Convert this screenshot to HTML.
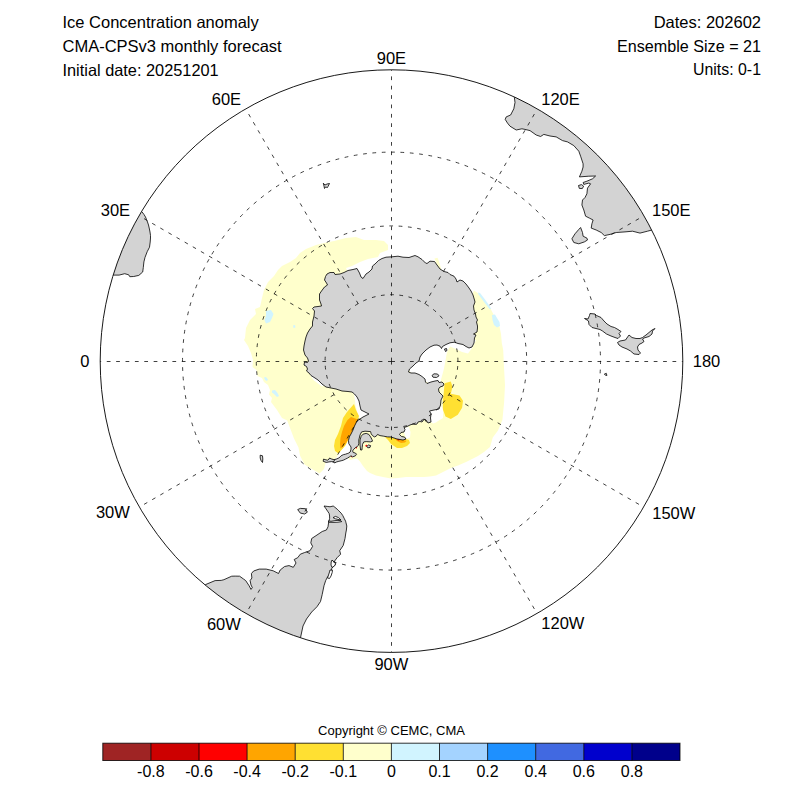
<!DOCTYPE html>
<html><head><meta charset="utf-8"><style>
html,body{margin:0;padding:0;background:#fff;width:800px;height:800px;overflow:hidden}
svg{display:block}
text{font-family:"Liberation Sans",Arial,Helvetica,sans-serif;fill:#000}
.t{font-size:16.5px}
.lb{font-size:16.5px;text-anchor:middle}
.cl{font-size:16px;text-anchor:middle}
.g{fill:none;stroke:#000;stroke-opacity:0.75;stroke-width:1;stroke-dasharray:3.75 5.625}
.gl{stroke-dashoffset:2.8}
.land path{fill:#d3d3d3;stroke:#000;stroke-width:0.8;stroke-linejoin:round}
</style></head><body>
<svg width="800" height="800" viewBox="0 0 800 800">
<text x="62.5" y="28.2" class="t">Ice Concentration anomaly</text>
<text x="62.5" y="52.2" class="t">CMA-CPSv3 monthly forecast</text>
<text x="62.5" y="75.7" class="t" textLength="156.2" lengthAdjust="spacingAndGlyphs">Initial date: 20251201</text>
<text x="761" y="28" class="t" text-anchor="end">Dates: 202602</text>
<text x="761" y="52" class="t" text-anchor="end" textLength="144" lengthAdjust="spacingAndGlyphs">Ensemble Size = 21</text>
<text x="761" y="75.3" class="t" text-anchor="end" textLength="68" lengthAdjust="spacingAndGlyphs">Units: 0-1</text>
<defs><clipPath id="cc"><circle cx="391.5" cy="361.1" r="291.3"/></clipPath></defs>
<g clip-path="url(#cc)">
<path d="M300.0,253.0 L306.0,249.0 L316.0,245.0 L324.0,243.0 L334.0,241.0 L346.0,238.0 L356.0,237.0 L364.0,240.0 L376.0,240.0 L384.0,241.0 L388.0,245.0 L388.0,250.0 L380.0,253.0 L378.0,257.0 L368.0,259.0 L360.0,262.0 L352.0,266.0 L346.0,268.0 L360.0,300.0 L470.0,300.0 L474.0,290.5 L478.5,293.5 L484.5,301.0 L490.5,308.5 L493.5,314.5 L498.0,320.5 L499.5,326.5 L501.0,334.0 L501.8,343.0 L503.2,350.0 L504.0,367.5 L505.0,385.0 L504.1,402.5 L502.4,420.0 L498.0,430.5 L492.8,437.5 L490.0,447.0 L484.0,452.0 L478.0,456.0 L472.0,459.0 L466.0,462.0 L458.0,465.5 L451.0,468.0 L443.0,472.0 L436.0,475.5 L430.0,476.5 L424.0,477.0 L415.0,477.0 L406.0,477.0 L398.0,478.0 L391.0,478.5 L383.0,477.0 L376.0,475.5 L370.0,473.0 L367.0,471.0 L363.0,466.0 L360.0,461.5 L357.0,458.5 L349.5,460.0 L347.0,456.0 L344.0,452.0 L341.0,452.5 L338.5,455.0 L336.0,458.0 L332.0,460.5 L326.0,461.5 L324.0,469.0 L319.5,473.5 L312.0,469.0 L304.5,464.5 L300.0,455.5 L298.5,447.5 L294.0,438.5 L290.6,429.5 L287.2,420.5 L282.0,418.0 L277.0,410.0 L274.0,406.0 L271.0,402.0 L272.0,398.0 L269.0,394.5 L270.0,390.0 L268.0,385.0 L264.0,382.0 L262.0,378.0 L257.5,376.0 L256.5,370.0 L252.5,367.0 L253.0,360.0 L251.0,353.0 L248.0,346.0 L244.0,340.0 L245.0,338.0 L246.0,328.0 L250.0,320.0 L256.0,314.0 L255.0,309.0 L260.0,307.0 L262.0,298.0 L264.0,290.0 L268.0,282.0 L274.0,276.0 L278.0,270.0 L282.0,266.0 L290.0,262.0 L296.0,258.0Z" fill="#ffffcc"/>
<path d="M434.5,258.5 L437.5,257.8 L439.0,261.5 L440.2,265.5 L441.5,270.0 L438.5,269.0 L436.5,264.0Z" fill="#ffffcc"/>
<path d="M472.5,347.5 L468.0,353.5 L462.0,352.0 L456.0,349.0 L450.0,346.5 L447.0,352.0 L445.5,360.5 L443.8,369.2 L441.0,379.8 L440.5,384.0 L430.0,384.0 L410.0,372.0 L405.0,360.0 L440.0,335.0 L476.0,340.0Z" fill="#fff"/>
<path d="M440.0,405.0 L443.0,409.0 L443.0,418.0 L438.0,421.0 L436.0,422.5 L433.0,423.5 L431.0,422.0 L429.0,411.0 L432.0,405.0Z" fill="#fff"/>
<path d="M404.0,427.5 L409.0,427.0 L410.5,432.0 L410.0,437.5 L406.0,439.0 L404.0,432.0Z" fill="#fff"/>
<path d="M352.0,392.0 L354.0,394.0 L355.5,405.0 L358.0,415.0 L359.0,418.0 L370.0,418.0 L370.0,390.0Z" fill="#fff"/>
<path d="M310.0,375.0 L314.0,380.5 L318.0,383.5 L322.0,386.5 L324.0,386.0 L318.0,379.0 L312.0,374.0Z" fill="#fff"/>
<path d="M444.6,383.2 L450.8,381.5 L452.5,386.8 L450.8,393.8 L459.5,395.5 L463.0,400.8 L462.1,407.8 L457.8,414.8 L450.8,419.1 L445.5,416.5 L442.9,409.5 L442.9,400.8 L443.8,392.0Z" fill="#ffe032"/>
<path d="M354.0,404.0 L356.0,410.0 L359.0,416.0 L357.0,422.0 L352.0,430.0 L349.0,438.0 L346.0,445.0 L342.0,450.0 L338.5,453.5 L335.0,451.0 L334.0,446.0 L335.0,440.0 L338.0,434.0 L341.0,426.0 L343.0,418.0 L347.0,412.0Z" fill="#ffe032"/>
<path d="M385.0,437.0 L388.0,440.0 L391.0,444.0 L397.0,448.0 L402.0,448.0 L407.0,446.0 L410.0,443.0 L409.0,440.0 L406.0,439.0 L403.0,440.0 L400.0,439.5 L397.0,439.0 L394.0,438.0 L390.0,437.0Z" fill="#ffe032"/>
<path d="M351.0,417.0 L358.0,419.5 L356.0,424.0 L352.0,432.0 L349.0,438.0 L346.0,443.0 L343.0,447.0 L340.5,448.5 L340.0,444.0 L340.5,438.0 L342.0,432.0 L344.0,426.0 L347.5,420.0Z" fill="#ffa500"/>
<path d="M395.0,439.0 L397.0,441.0 L401.0,443.0 L405.0,442.5 L406.5,441.0 L404.0,440.0 L400.0,439.5Z" fill="#ffa500"/>
<path d="M349.3,437.0 L348.0,441.0 L345.5,445.5 L342.5,449.0 L339.5,452.5 L337.5,455.5 L338.9,458.0 L345.0,455.0 L350.0,452.0 L351.0,447.0 L348.5,440.4Z" fill="#fff"/>
<path d="M266.0,311.0 L271.0,310.0 L273.5,314.0 L272.0,318.0 L270.0,322.0 L266.0,323.5 L264.5,320.0 L266.0,316.0Z" fill="#d1f4ff"/>
<path d="M293.0,325.5 L295.0,325.0 L295.5,327.5 L293.5,328.0Z" fill="#d1f4ff"/>
<path d="M264.0,377.5 L266.0,377.0 L268.0,379.5 L267.0,381.0 L265.0,380.0Z" fill="#d1f4ff"/>
<path d="M272.0,390.5 L275.0,390.0 L277.5,393.0 L279.0,396.0 L277.0,397.0 L274.0,394.0 L272.0,392.5Z" fill="#d1f4ff"/>
<path d="M492.0,315.0 L495.0,314.5 L497.0,318.0 L499.5,322.0 L500.0,326.0 L497.0,327.5 L494.0,325.0 L492.5,320.0Z" fill="#d1f4ff"/>
<path d="M478.0,292.5 L480.0,293.0 L485.0,299.5 L490.0,306.5 L491.0,309.0 L489.5,309.0 L484.0,302.0 L478.5,294.5Z" fill="#d1f4ff"/>
<circle cx="398.5" cy="439.5" r="1.1" fill="#ff0000"/>
<circle cx="356.25" cy="447.6" r="0.9" fill="#ff0000"/>
<circle cx="366.4" cy="445.7" r="1.0" fill="#ff0000"/>
<circle cx="351.75" cy="456.4" r="0.8" fill="#ff0000"/>
<g class="land"><path d="M141.8,211.6 L144.0,214.5 L145.5,217.0 L146.5,219.5 L147.5,222.0 L148.5,225.0 L149.2,228.0 L150.0,232.0 L150.5,235.5 L150.5,238.0 L150.2,242.0 L149.5,247.2 L147.2,251.7 L145.0,257.4 L143.9,261.9 L143.3,267.5 L142.7,272.0 L138.8,275.4 L133.7,276.5 L129.8,276.7 L128.7,274.8 L124.7,273.7 L119.1,275.1 L113.5,275.1 L75.0,263.2 L75.0,263.2 L77.0,256.9 L79.2,250.6 L81.4,244.4 L83.8,238.3 L86.3,232.1 L89.0,226.1 L91.7,220.1 L94.6,214.1 L97.6,208.2 L100.7,202.4 L103.9,196.6 L107.3,190.9 L107.3,190.9Z"/>
<path d="M514.4,97.5 L515.0,102.5 L513.8,108.8 L510.6,115.0 L506.2,116.9 L505.2,119.4 L507.5,123.1 L510.0,126.2 L516.2,130.0 L521.9,128.8 L525.0,129.4 L530.0,130.6 L536.2,135.0 L540.6,136.5 L543.8,134.4 L550.0,136.0 L556.2,136.9 L562.5,140.6 L567.5,141.9 L573.8,145.6 L578.8,151.2 L580.6,156.2 L583.1,163.8 L583.1,167.0 L581.9,171.2 L579.4,176.9 L588.8,176.2 L595.6,176.0 L592.5,178.8 L586.9,181.2 L583.1,182.5 L583.8,184.4 L588.8,183.1 L590.6,183.8 L587.5,188.1 L586.9,193.8 L585.0,197.5 L582.5,200.0 L581.9,205.0 L583.8,210.0 L585.6,216.2 L589.4,218.1 L593.1,220.0 L591.9,223.8 L591.2,228.1 L596.2,230.0 L601.2,232.5 L604.4,235.6 L610.0,234.4 L616.2,232.5 L625.0,231.9 L632.5,231.2 L640.0,233.1 L647.5,231.2 L651.9,230.0 L687.4,212.1 L687.4,212.1 L678.7,195.9 L669.0,180.2 L658.5,165.0 L647.2,150.4 L635.1,136.5 L622.2,123.3 L608.6,110.9 L594.4,99.2 L579.5,88.3 L564.0,78.2 L548.0,69.1 L531.5,60.8 L531.5,60.8Z"/>
<path d="M205.5,584.6 L215.1,580.6 L221.2,580.4 L223.9,579.7 L231.7,576.2 L235.2,576.1 L239.6,576.2 L243.5,579.0 L245.7,580.6 L249.2,585.9 L251.0,589.4 L252.3,587.6 L251.0,585.0 L250.1,580.6 L251.9,578.0 L251.4,573.6 L253.6,571.0 L259.2,569.1 L266.2,569.1 L273.2,570.8 L278.5,573.5 L280.2,570.0 L284.6,566.5 L289.0,565.6 L293.3,567.3 L296.0,563.0 L294.2,559.5 L297.7,557.7 L300.3,554.2 L304.7,552.5 L310.0,550.7 L312.6,546.4 L310.8,542.9 L311.7,538.5 L317.0,535.0 L322.2,531.5 L326.4,530.0 L328.0,526.8 L328.4,524.0 L328.8,521.2 L329.6,518.8 L329.6,516.0 L329.2,513.6 L327.6,511.2 L326.0,508.8 L324.0,506.0 L327.2,506.4 L330.0,506.8 L333.2,506.0 L334.8,507.2 L337.2,509.2 L338.8,510.8 L341.2,513.2 L342.8,515.6 L344.4,518.8 L345.6,521.2 L346.0,522.8 L346.8,526.0 L346.4,530.0 L345.8,533.0 L345.0,538.5 L343.2,545.5 L339.7,550.7 L340.6,554.2 L337.1,557.7 L334.5,561.2 L335.3,564.7 L331.8,568.2 L331.0,573.5 L327.5,577.0 L325.7,580.5 L324.0,585.7 L322.2,594.5 L320.5,601.5 L317.0,606.7 L311.7,612.0 L306.5,619.0 L303.0,626.0 L300.5,637.7 L288.0,675.8 L288.0,675.8 L278.1,672.4 L268.4,668.7 L258.9,664.7 L249.4,660.4 L240.1,655.8 L230.9,650.9 L221.9,645.7 L213.1,640.3 L204.4,634.5 L195.9,628.5 L187.7,622.3 L179.6,615.8 L179.6,615.8Z"/>
<path d="M578.5,185.5 L581.5,184.6 L583.6,186.2 L582.3,188.6 L579.3,188.4Z"/>
<path d="M580.6,227.5 L582.5,232.5 L583.1,236.2 L586.9,238.1 L587.5,240.0 L584.4,241.9 L578.8,243.8 L573.8,242.5 L571.9,238.8 L575.0,233.8 L578.8,229.4Z"/>
<path d="M590.0,313.5 L595.0,314.0 L596.5,315.5 L601.0,317.5 L604.0,321.0 L607.0,324.0 L611.0,326.5 L614.5,327.5 L618.0,329.5 L621.0,331.5 L619.0,333.5 L620.5,336.0 L618.0,338.5 L615.0,337.5 L611.0,336.0 L606.5,334.0 L602.5,331.0 L600.0,329.5 L596.0,328.5 L592.0,327.5 L589.0,324.5 L588.5,321.0 L587.0,320.0 L584.5,318.5 L588.0,319.0 L589.5,315.5Z"/>
<path d="M617.5,342.5 L620.0,341.0 L625.5,340.0 L629.0,335.0 L632.0,337.5 L636.0,338.5 L640.0,338.5 L642.5,337.5 L646.0,335.0 L652.0,330.0 L655.0,328.5 L652.5,331.0 L652.0,334.0 L649.0,336.5 L644.0,338.0 L642.5,339.0 L644.0,341.5 L642.0,343.0 L639.0,344.5 L637.5,347.0 L638.0,350.0 L640.5,353.0 L639.0,354.5 L634.0,354.0 L630.5,351.0 L627.0,349.0 L622.0,347.0 L619.0,345.0Z"/>
<path d="M297.7,509.6 L300.3,508.4 L305.6,508.7 L307.3,512.2 L304.7,514.0 L300.3,513.1Z"/>
<path d="M323.3,183.2 L325.0,185.0 L327.0,184.0 L329.5,183.5 L328.0,186.5 L327.5,187.5 L325.5,187.0 L324.5,188.5 L324.0,186.0Z"/>
<path d="M260.2,455.2 L262.5,455.8 L262.8,459.0 L262.5,462.5 L261.0,460.5 L260.2,458.0Z"/>
<path d="M313.0,320.0 L314.0,316.0 L314.5,311.0 L312.5,308.5 L314.0,307.0 L318.0,306.5 L321.5,306.0 L321.0,304.0 L319.5,300.0 L319.5,294.0 L321.5,291.0 L324.5,287.0 L327.5,285.0 L326.5,283.0 L324.5,280.0 L325.5,276.5 L327.0,274.0 L330.0,272.5 L334.0,272.5 L335.0,274.5 L340.0,274.0 L344.0,272.5 L348.0,270.5 L353.0,269.5 L357.0,268.5 L359.5,273.0 L361.0,277.0 L363.0,278.5 L366.0,274.0 L369.0,272.0 L372.0,269.0 L372.5,266.0 L375.0,264.0 L378.5,260.5 L382.0,258.5 L386.0,257.2 L392.0,256.8 L398.0,256.2 L403.0,257.2 L409.0,257.5 L412.0,256.5 L415.0,255.5 L418.0,256.8 L422.0,259.5 L425.5,263.0 L427.0,263.5 L430.0,261.2 L434.5,261.5 L437.0,265.0 L440.0,269.0 L444.0,271.5 L448.0,272.5 L450.0,274.5 L454.0,276.2 L456.0,279.0 L457.0,282.0 L460.0,280.0 L463.0,281.0 L466.0,284.0 L469.0,288.0 L471.0,291.0 L473.0,295.0 L474.5,300.0 L475.0,302.0 L473.5,306.0 L474.0,310.0 L475.5,314.0 L476.0,317.0 L477.5,320.0 L476.5,322.0 L477.5,326.0 L477.5,328.0 L477.0,332.0 L473.5,334.0 L476.0,335.0 L474.5,338.0 L474.0,343.0 L472.0,347.0 L469.0,348.0 L466.0,346.5 L463.0,344.5 L458.0,343.5 L454.5,342.2 L450.0,342.8 L446.0,344.5 L442.5,346.5 L441.5,348.5 L440.0,346.2 L437.0,345.0 L434.0,345.2 L430.0,347.0 L426.0,350.0 L422.0,354.0 L420.0,357.0 L419.0,361.0 L416.0,363.0 L413.0,366.0 L409.5,369.0 L408.5,372.0 L411.0,373.0 L415.0,373.0 L419.0,374.5 L422.0,376.5 L425.0,379.0 L425.5,382.0 L427.0,383.5 L431.0,382.0 L435.0,381.0 L438.0,380.5 L439.0,382.5 L442.0,382.0 L444.0,384.0 L443.0,386.0 L440.0,387.0 L438.5,389.0 L439.0,392.0 L441.0,394.0 L443.0,396.0 L441.0,400.0 L440.5,405.0 L439.0,409.0 L434.0,410.0 L429.5,411.0 L431.0,414.0 L430.5,418.0 L431.0,422.0 L428.0,423.0 L426.0,420.0 L424.0,419.5 L422.0,422.0 L420.0,421.5 L418.0,422.0 L417.0,424.0 L415.5,424.5 L413.0,424.0 L410.0,425.0 L407.0,426.5 L404.0,427.5 L405.0,429.5 L404.0,432.0 L401.0,432.5 L399.5,434.5 L401.5,436.5 L404.5,437.0 L406.0,439.0 L403.0,440.0 L400.0,439.5 L397.0,439.0 L394.0,438.0 L391.0,437.0 L387.5,436.9 L383.8,436.2 L380.0,435.6 L377.5,434.4 L376.2,436.2 L374.4,436.9 L372.5,435.6 L371.2,433.8 L370.6,431.6 L365.0,431.2 L361.6,431.9 L360.0,435.0 L358.8,440.0 L358.8,443.8 L358.1,445.6 L356.9,446.9 L355.4,447.6 L353.8,449.2 L352.6,450.9 L353.2,452.5 L355.4,453.0 L356.5,454.2 L355.4,455.8 L352.6,456.9 L351.0,455.8 L349.4,456.9 L347.7,458.0 L345.5,459.1 L343.3,460.2 L341.1,460.8 L338.9,461.3 L336.7,461.9 L334.5,463.0 L334.0,461.9 L331.8,461.6 L329.0,461.9 L326.2,462.4 L323.2,461.3 L323.5,459.1 L325.1,459.6 L327.4,460.2 L329.0,459.1 L329.6,458.0 L331.8,459.1 L334.0,459.7 L336.2,459.1 L338.9,458.0 L341.1,455.8 L343.3,454.7 L345.5,454.2 L347.2,453.6 L348.8,453.0 L350.2,452.0 L351.0,449.2 L351.0,447.0 L348.8,443.7 L348.5,440.4 L349.3,437.0 L351.0,434.0 L353.0,430.0 L354.5,426.0 L357.0,421.0 L360.0,419.0 L363.0,417.0 L366.0,415.5 L369.0,414.0 L365.0,412.0 L361.0,410.0 L360.0,406.0 L359.0,401.0 L357.0,397.0 L354.5,394.0 L352.0,392.0 L348.0,391.5 L342.0,391.0 L336.0,389.0 L331.0,388.0 L326.0,387.0 L322.0,384.0 L318.0,380.0 L315.0,378.0 L311.0,375.5 L309.0,373.0 L306.5,371.0 L307.5,369.0 L306.5,366.5 L304.0,365.0 L304.5,362.0 L307.5,362.5 L308.5,361.0 L307.5,358.0 L305.0,355.0 L303.5,350.0 L304.0,346.0 L305.0,341.0 L306.0,337.0 L307.5,333.0 L310.0,329.0 L312.5,326.0 L312.5,322.0Z"/>
<path d="M360.6,450.0 L360.0,445.0 L360.0,440.0 L361.2,436.2 L363.1,434.1 L366.2,433.4 L368.8,434.4 L370.6,436.9 L371.9,439.4 L372.5,441.2 L370.6,441.9 L366.2,441.6 L363.8,441.9 L362.5,444.4 L362.2,447.5 L361.9,450.0Z"/>
<path d="M432.0,375.5 L434.0,373.8 L437.5,374.0 L439.0,375.8 L436.5,377.5 L433.0,377.2Z"/>
<path d="M366.8,446.5 L368.5,445.0 L370.6,445.6 L370.0,447.5 L367.8,447.8Z"/>
<path d="M444.5,349.0 L446.5,348.5 L447.0,350.5 L445.5,351.5Z"/>
<path d="M604.3,374.2 L606.3,373.3 L606.9,375.5 L605.5,375.2Z"/>
<path d="M330.0,570.0 L332.5,570.2 L332.2,572.5 L331.0,576.0 L329.5,578.5 L327.5,578.0 L328.5,575.0 L329.5,572.0Z" style="fill:#fff"/>
<path d="M332.0,560.0 L333.0,561.0 L335.0,562.5 L335.5,564.0 L334.5,566.0 L332.0,567.5 L331.0,565.0 L331.2,562.0Z" style="fill:#fff"/>
<path d="M328.5,520.9 L331.0,521.3 L334.0,520.8 L337.0,520.4 L340.5,520.6 L341.8,521.6 L338.0,522.2 L334.0,522.4 L331.0,522.3 L328.6,522.3Z" style="fill:#fff"/>
<path d="M333.0,517.6 L335.5,516.4 L338.5,517.6 L341.0,520.0 L338.0,519.4 L335.5,518.8Z" style="fill:#fff"/></g>
</g>
<circle cx="391.5" cy="361.1" r="66.42" class="g" style="stroke-dasharray:3.7099 5.5648;stroke-dashoffset:4.2"/>
<circle cx="391.5" cy="361.1" r="135.19" class="g" style="stroke-dasharray:3.7338 5.6007;stroke-dashoffset:0.1"/>
<circle cx="391.5" cy="361.1" r="208.99" class="g" style="stroke-dasharray:3.7518 5.6277;stroke-dashoffset:0.8"/>
<line x1="100.20" y1="361.50" x2="391.50" y2="361.50" class="g gl"/>
<line x1="139.23" y1="215.85" x2="333.97" y2="328.29" class="g gl" style="stroke-dashoffset:3.8"/>
<line x1="245.85" y1="109.23" x2="358.29" y2="303.97" class="g gl" style="stroke-dashoffset:3.8"/>
<line x1="391.50" y1="69.80" x2="391.50" y2="361.10" class="g gl"/>
<line x1="537.15" y1="109.23" x2="424.71" y2="303.97" class="g gl" style="stroke-dashoffset:3.8"/>
<line x1="643.77" y1="215.85" x2="449.03" y2="328.29" class="g gl" style="stroke-dashoffset:3.8"/>
<line x1="682.80" y1="361.50" x2="391.50" y2="361.50" class="g gl"/>
<line x1="643.77" y1="507.15" x2="449.03" y2="394.71" class="g gl" style="stroke-dashoffset:3.8"/>
<line x1="537.15" y1="613.77" x2="424.71" y2="419.03" class="g gl" style="stroke-dashoffset:3.8"/>
<line x1="391.50" y1="652.40" x2="391.50" y2="361.10" class="g gl"/>
<line x1="245.85" y1="613.77" x2="358.29" y2="419.03" class="g gl" style="stroke-dashoffset:3.8"/>
<line x1="139.23" y1="507.15" x2="333.97" y2="394.71" class="g gl" style="stroke-dashoffset:3.8"/>
<circle cx="391.5" cy="361.1" r="291.3" fill="none" stroke="#000" stroke-opacity="0.9" stroke-width="1"/>
<text x="391.4" y="64" class="lb">90E</text>
<text x="226.4" y="105" class="lb">60E</text>
<text x="115.4" y="215.6" class="lb">30E</text>
<text x="84.9" y="366.7" class="lb">0</text>
<text x="112.9" y="518.4" class="lb">30W</text>
<text x="223.9" y="629.7" class="lb">60W</text>
<text x="391.4" y="670" class="lb">90W</text>
<text x="562.9" y="629.4" class="lb">120W</text>
<text x="673.8" y="518.5" class="lb">150W</text>
<text x="706.5" y="366.7" class="lb">180</text>
<text x="671.3" y="215.7" class="lb">150E</text>
<text x="560.5" y="104.7" class="lb">120E</text>
<text x="391.5" y="735" style="font-size:13px;text-anchor:middle">Copyright © CEMC, CMA</text>
<rect x="102.80" y="743.2" width="48.10" height="17.3" fill="#9f2424"/>
<rect x="150.90" y="743.2" width="48.10" height="17.3" fill="#cd0000"/>
<rect x="199.00" y="743.2" width="48.10" height="17.3" fill="#ff0000"/>
<rect x="247.10" y="743.2" width="48.10" height="17.3" fill="#ffa500"/>
<rect x="295.20" y="743.2" width="48.10" height="17.3" fill="#ffe032"/>
<rect x="343.30" y="743.2" width="48.10" height="17.3" fill="#ffffcc"/>
<rect x="391.40" y="743.2" width="48.10" height="17.3" fill="#d1f4ff"/>
<rect x="439.50" y="743.2" width="48.10" height="17.3" fill="#a4d3ff"/>
<rect x="487.60" y="743.2" width="48.10" height="17.3" fill="#1e90ff"/>
<rect x="535.70" y="743.2" width="48.10" height="17.3" fill="#4169e1"/>
<rect x="583.80" y="743.2" width="48.10" height="17.3" fill="#0000cd"/>
<rect x="631.90" y="743.2" width="48.10" height="17.3" fill="#00008b"/>
<rect x="102.8" y="743.2" width="577.20" height="17.3" fill="none" stroke="#000" stroke-opacity="0.8" stroke-width="1"/>
<line x1="150.90" y1="743.2" x2="150.90" y2="760.5" stroke="#000" stroke-opacity="0.8" stroke-width="1"/>
<line x1="199.00" y1="743.2" x2="199.00" y2="760.5" stroke="#000" stroke-opacity="0.8" stroke-width="1"/>
<line x1="247.10" y1="743.2" x2="247.10" y2="760.5" stroke="#000" stroke-opacity="0.8" stroke-width="1"/>
<line x1="295.20" y1="743.2" x2="295.20" y2="760.5" stroke="#000" stroke-opacity="0.8" stroke-width="1"/>
<line x1="343.30" y1="743.2" x2="343.30" y2="760.5" stroke="#000" stroke-opacity="0.8" stroke-width="1"/>
<line x1="391.40" y1="743.2" x2="391.40" y2="760.5" stroke="#000" stroke-opacity="0.8" stroke-width="1"/>
<line x1="439.50" y1="743.2" x2="439.50" y2="760.5" stroke="#000" stroke-opacity="0.8" stroke-width="1"/>
<line x1="487.60" y1="743.2" x2="487.60" y2="760.5" stroke="#000" stroke-opacity="0.8" stroke-width="1"/>
<line x1="535.70" y1="743.2" x2="535.70" y2="760.5" stroke="#000" stroke-opacity="0.8" stroke-width="1"/>
<line x1="583.80" y1="743.2" x2="583.80" y2="760.5" stroke="#000" stroke-opacity="0.8" stroke-width="1"/>
<line x1="631.90" y1="743.2" x2="631.90" y2="760.5" stroke="#000" stroke-opacity="0.8" stroke-width="1"/>
<text x="150.90" y="777" class="cl">-0.8</text>
<text x="199.00" y="777" class="cl">-0.6</text>
<text x="247.10" y="777" class="cl">-0.4</text>
<text x="295.20" y="777" class="cl">-0.2</text>
<text x="343.30" y="777" class="cl">-0.1</text>
<text x="391.40" y="777" class="cl">0</text>
<text x="439.50" y="777" class="cl">0.1</text>
<text x="487.60" y="777" class="cl">0.2</text>
<text x="535.70" y="777" class="cl">0.4</text>
<text x="583.80" y="777" class="cl">0.6</text>
<text x="631.90" y="777" class="cl">0.8</text>
</svg>
</body></html>
